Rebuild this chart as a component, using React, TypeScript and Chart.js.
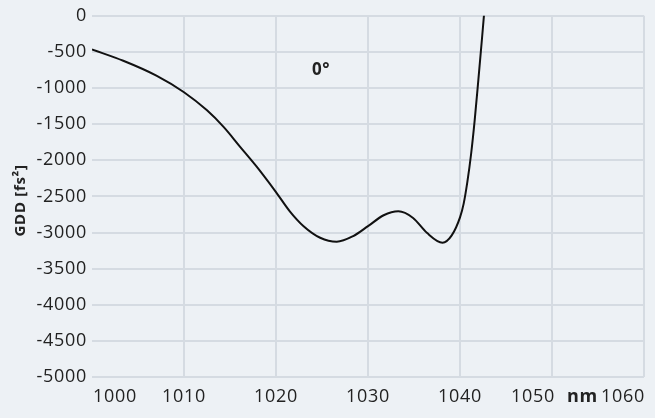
import React, { useEffect, useRef } from "react";
import { Chart, registerables } from "chart.js";

Chart.register(...registerables);

const wavelengths = [1000, 1003.4, 1007, 1010, 1012.5, 1014.3, 1016.1, 1017.9, 1020, 1021.5, 1023, 1024.8, 1026.6, 1028.4, 1030, 1031.7, 1033.3, 1034.9, 1036.4, 1038.1, 1039.1, 1040, 1040.4, 1040.8, 1041.2, 1041.6, 1042, 1042.4, 1042.8];
const gdd = [-465, -622, -828, -1058, -1309, -1538, -1813, -2088, -2440, -2706, -2912, -3072, -3127, -3049, -2912, -2761, -2706, -2798, -3004, -3141, -3040, -2790, -2600, -2300, -1920, -1440, -880, -300, 300];
const xTicks = [1000, 1010, 1020, 1030, 1040, 1050, 1060];
const xUnit = "nm";
const yTitle = "GDD [fs²]";
const curveLabel = "0°";

const BG = "#edf1f5";
const GRID = "#d5dbe2";
const TEXT = "#222222";
const FONT = "'Open Sans', sans-serif";
const SPACING = "0.7px";

export default function App() {
  const ref = useRef<HTMLCanvasElement | null>(null);
  useEffect(() => {
    document.body.style.margin = "0";
    document.body.style.background = BG;
    const canvas = ref.current!;
    const textPlugin = {
      id: "textPlugin",
      beforeDraw(chart: any) {
        const c = chart.ctx;
        c.save();
        c.fillStyle = BG;
        c.fillRect(0, 0, chart.width, chart.height);
        c.restore();
        (c as any).letterSpacing = SPACING;
      },
      afterDraw(chart: any) {
        const c = chart.ctx;
        const xs = chart.scales.x;
        const ys = chart.scales.y;
        c.save();
        (c as any).letterSpacing = SPACING;
        c.fillStyle = TEXT;
        c.textBaseline = "alphabetic";
        c.font = `18px ${FONT}`;
        const base = chart.chartArea.bottom + 25;
        xTicks.forEach((v, i) => {
          const px = xs.getPixelForValue(v);
          if (i === 0) {
            c.textAlign = "left";
            c.fillText(String(v), px + 1, base);
          } else if (i === xTicks.length - 1) {
            c.textAlign = "right";
            c.fillText(String(v), px + 1, base);
          } else if (i === xTicks.length - 2) {
            c.textAlign = "right";
            c.fillText(String(v), px + 3, base);
            c.font = `bold 18px ${FONT}`;
            c.textAlign = "left";
            c.fillText(xUnit, px + 15, base);
            c.font = `18px ${FONT}`;
          } else {
            c.textAlign = "center";
            c.fillText(String(v), px, base);
          }
        });
        // curve label
        c.font = `bold 17px ${FONT}`;
        c.textAlign = "center";
        c.fillText(curveLabel, xs.getPixelForValue(1024.9), ys.getPixelForValue(-820));
        // y title
        c.translate(21, (chart.chartArea.top + chart.chartArea.bottom) / 2 + 4);
        c.rotate(-Math.PI / 2);
        c.font = `bold 15px ${FONT}`;
        c.textAlign = "center";
        c.textBaseline = "middle";
        c.fillText(yTitle, 0, 0);
        c.restore();
      },
    };
    const chart = new Chart(canvas, {
      type: "line",
      data: {
        datasets: [
          {
            data: wavelengths.map((x, i) => ({ x, y: gdd[i] })),
            borderColor: "#111111",
            borderWidth: 2,
            pointRadius: 0,
            fill: false,
            cubicInterpolationMode: "monotone",
          },
        ],
      },
      options: {
        responsive: false,
        animation: false,
        devicePixelRatio: 1,
        layout: { padding: { top: 13, right: 11, left: 0, bottom: 0 } },
        plugins: { legend: { display: false }, tooltip: { enabled: false } },
        scales: {
          x: {
            type: "linear",
            min: 1000,
            max: 1060,
            afterBuildTicks: (s: any) => {
              s.ticks = xTicks.map((v) => ({ value: v }));
            },
            afterFit: (s: any) => {
              s.height = 41;
            },
            border: { display: false },
            grid: {
              color: (ctx: any) => (ctx.tick && ctx.tick.value === 1000 ? "rgba(0,0,0,0)" : GRID),
              lineWidth: 2,
              drawTicks: false,
            },
            ticks: { display: false },
          },
          y: {
            min: -5000,
            max: 0,
            afterFit: (s: any) => {
              s.width = 92;
            },
            border: { display: false },
            grid: { color: GRID, lineWidth: 2, drawTicks: false },
            ticks: {
              stepSize: 500,
              padding: 5,
              color: TEXT,
              font: { family: FONT, size: 18 },
              callback: (v: any) => String(v),
            },
          },
        },
      },
      plugins: [textPlugin],
    } as any);
    return () => chart.destroy();
  }, []);
  return (
    <div style={{ width: 655, height: 418 }}>
      <canvas ref={ref} width={655} height={418} />
    </div>
  );
}
